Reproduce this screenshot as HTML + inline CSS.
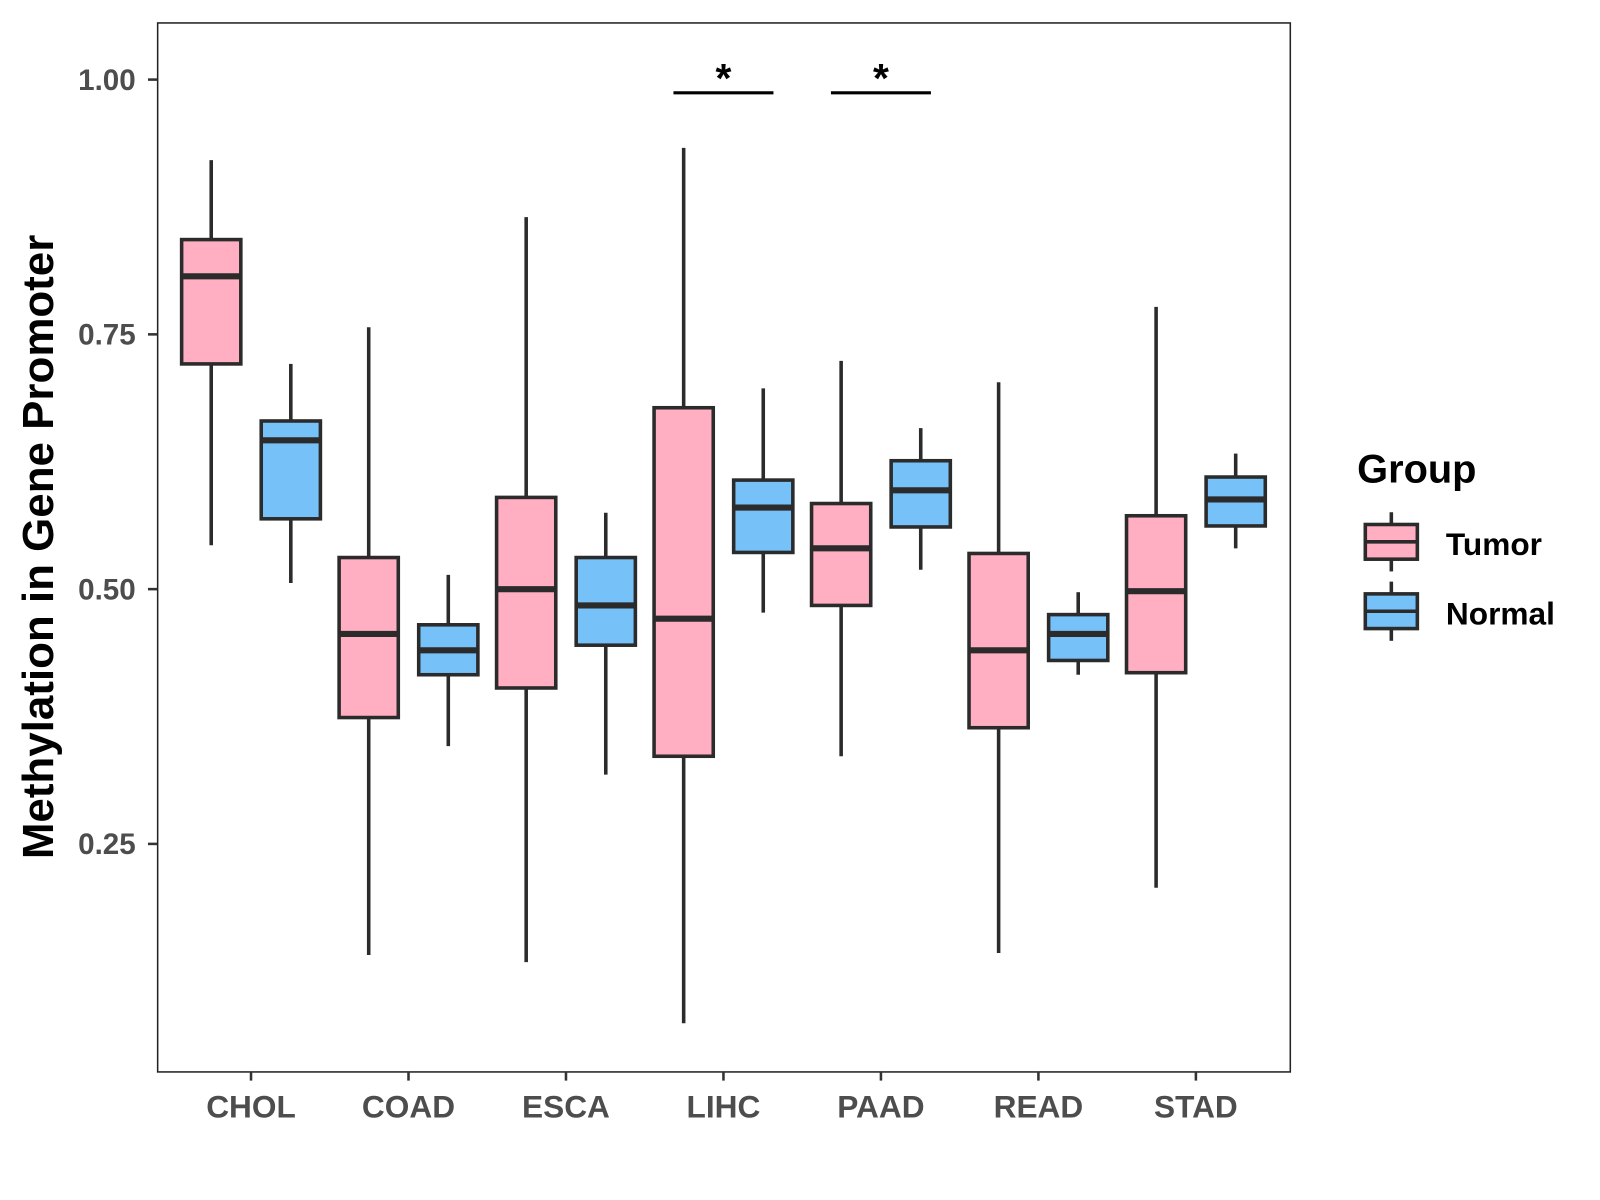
<!DOCTYPE html>
<html><head><meta charset="utf-8"><style>
html,body{margin:0;padding:0;background:#fff;}
svg{display:block;font-family:"Liberation Sans",Arial,sans-serif;}
</style></head><body>
<svg id="chart" width="1600" height="1200" viewBox="0 0 1568 1176" xmlns="http://www.w3.org/2000/svg">
<rect x="154.5" y="22.5" width="1110" height="1028" fill="#fff" stroke="#222" stroke-width="1.5"/>
<g id="yaxis"></g>
<g id="xaxis"></g>
<g id="boxes"></g>
<g id="sig"></g>
<text transform="translate(52,536) rotate(-90)" text-anchor="middle" font-size="43" font-weight="bold" fill="#000" textLength="612" lengthAdjust="spacingAndGlyphs">Methylation in Gene Promoter</text>
<g>
<text x="1330" y="473" font-size="39" font-weight="bold" fill="#000">Group</text>
<g>
<line x1="1363.5" y1="502" x2="1363.5" y2="560" stroke="#2b2b2b" stroke-width="3.5"/>
<rect x="1338" y="514" width="51" height="34" fill="#FFAFC1" stroke="#2b2b2b" stroke-width="3.5"/>
<line x1="1338" y1="531" x2="1389" y2="531" stroke="#2b2b2b" stroke-width="3.5"/>
<text x="1417" y="544" font-size="31" font-weight="bold" fill="#000">Tumor</text>
</g>
<g>
<line x1="1363.5" y1="570" x2="1363.5" y2="628" stroke="#2b2b2b" stroke-width="3.5"/>
<rect x="1338" y="582" width="51" height="34" fill="#77C1F9" stroke="#2b2b2b" stroke-width="3.5"/>
<line x1="1338" y1="599" x2="1389" y2="599" stroke="#2b2b2b" stroke-width="3.5"/>
<text x="1417" y="612" font-size="31" font-weight="bold" fill="#000">Normal</text>
</g>
</g>
</svg>
<script>
const categories = ["CHOL","COAD","ESCA","LIHC","PAAD","READ","STAD"];
const tumorMin = [0.543,0.141,0.134,0.074,0.336,0.143,0.207];
const tumorQ1  = [0.721,0.374,0.403,0.336,0.484,0.364,0.418];
const tumorMed = [0.807,0.456,0.500,0.471,0.540,0.440,0.498];
const tumorQ3  = [0.843,0.531,0.590,0.678,0.584,0.535,0.572];
const tumorMax = [0.921,0.757,0.865,0.933,0.724,0.703,0.777];
const normalMin = [0.506,0.346,0.318,0.477,0.519,0.416,0.540];
const normalQ1  = [0.569,0.416,0.445,0.536,0.561,0.430,0.562];
const normalMed = [0.646,0.440,0.484,0.580,0.597,0.456,0.588];
const normalQ3  = [0.665,0.465,0.531,0.607,0.626,0.475,0.610];
const normalMax = [0.721,0.514,0.575,0.697,0.658,0.497,0.633];
const yTicks = [0.25,0.50,0.75,1.00];
const yTickLabels = ["0.25","0.50","0.75","1.00"];
const sigCategories = ["LIHC","PAAD"];
const sigLevel = 0.987;

const NS="http://www.w3.org/2000/svg";
function yS(v){return 78+(1-v)*998.7;}
function xS(i){return 246+i*154.33;}
function mk(tag,attrs,parent){const e=document.createElementNS(NS,tag);for(const k in attrs)e.setAttribute(k,attrs[k]);parent.appendChild(e);return e;}
const ya=document.getElementById('yaxis'),xa=document.getElementById('xaxis'),bx=document.getElementById('boxes'),sg=document.getElementById('sig');
yTicks.forEach((v,i)=>{
  const t=mk('line',{x1:145,x2:154,y1:yS(v),y2:yS(v),stroke:'#333','stroke-width':2.5},ya);
  
  
  const l=mk('text',{x:133,y:yS(v)+10,'text-anchor':'end','font-size':29,'font-weight':'bold',fill:'#4d4d4d'},ya);
  l.textContent=yTickLabels[i];
  
  
});
categories.forEach((c,i)=>{
  const t=mk('line',{x1:xS(i),x2:xS(i),y1:1050,y2:1059,stroke:'#333','stroke-width':2.5},xa);
  
  
  const l=mk('text',{x:xS(i),y:1095,'text-anchor':'middle','font-size':31,'font-weight':'bold',fill:'#4d4d4d'},xa);
  l.textContent=c;
  
  
});
function box(cx,mn,q1,md,q3,mx,fill,name){
  const g=mk('g',{},bx);
  
  
  const st={stroke:'#2b2b2b','stroke-width':3.5};
  mk('line',Object.assign({x1:cx,x2:cx,y1:yS(mx),y2:yS(q3)},st),g);
  mk('line',Object.assign({x1:cx,x2:cx,y1:yS(q1),y2:yS(mn)},st),g);
  mk('rect',Object.assign({x:cx-29,width:58,y:yS(q3),height:yS(q1)-yS(q3),fill:fill},st),g);
  mk('line',{x1:cx-29,x2:cx+29,y1:yS(md),y2:yS(md),stroke:'#2b2b2b','stroke-width':6},g);
}
categories.forEach((c,i)=>{
  box(xS(i)-39,tumorMin[i],tumorQ1[i],tumorMed[i],tumorQ3[i],tumorMax[i],'#FFAFC1','box-tumor-'+c.toLowerCase());
  box(xS(i)+39,normalMin[i],normalQ1[i],normalMed[i],normalQ3[i],normalMax[i],'#77C1F9','box-normal-'+c.toLowerCase());
});
sigCategories.forEach(c=>{
  const i=categories.indexOf(c);
  const l=mk('line',{x1:xS(i)-49,x2:xS(i)+49,y1:yS(sigLevel),y2:yS(sigLevel),stroke:'#000','stroke-width':3},sg);
  
  
  const t=mk('text',{x:xS(i),y:yS(sigLevel)-1,'text-anchor':'middle','font-size':40,'font-weight':'bold',fill:'#000'},sg);
  t.textContent='*';
  
  
});
</script>
</body></html>
